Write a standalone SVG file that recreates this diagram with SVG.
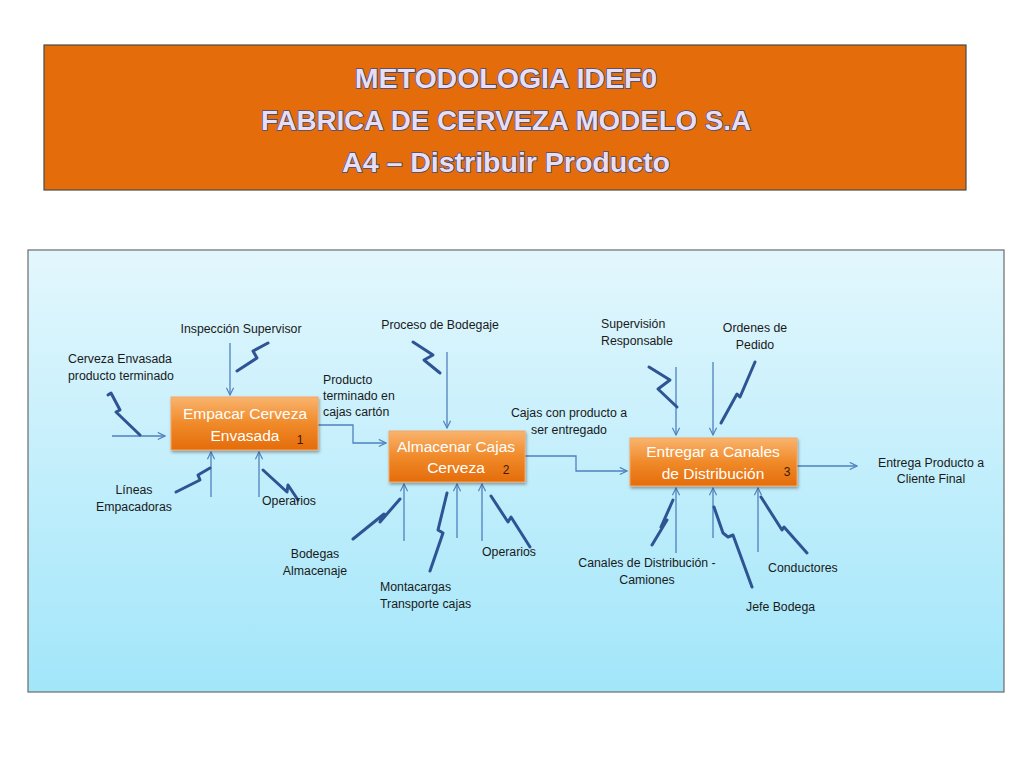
<svg xmlns="http://www.w3.org/2000/svg" width="1024" height="768" viewBox="0 0 1024 768">
<defs>
<linearGradient id="panelG" x1="0" y1="0" x2="0" y2="1">
<stop offset="0" stop-color="#E3F7FD"/>
<stop offset="1" stop-color="#A2E6FA"/>
</linearGradient>
<linearGradient id="boxG" x1="0" y1="0" x2="0" y2="1">
<stop offset="0" stop-color="#F9B46E"/>
<stop offset="0.5" stop-color="#F08A2A"/>
<stop offset="1" stop-color="#E46C0A"/>
</linearGradient>
<filter id="sh" x="-10%" y="-10%" width="130%" height="140%">
<feDropShadow dx="1" dy="2" stdDeviation="1.5" flood-color="#000" flood-opacity="0.35"/>
</filter>
<marker id="arr" viewBox="0 0 10 10" refX="9" refY="5" markerWidth="9" markerHeight="9" markerUnits="userSpaceOnUse" orient="auto">
<path d="M1,1 L9,5 L1,9" fill="none" stroke="#4F81BD" stroke-width="1.3"/>
</marker>
</defs>
<style>
.title{font-family:"Liberation Sans",Arial,sans-serif;font-weight:bold;font-size:28.5px;fill:#E9DDF2;stroke:#3E4E7E;stroke-width:1.6px;paint-order:stroke;text-anchor:middle}
.box{fill:url(#boxG);stroke:#F6A869;stroke-width:1;filter:url(#sh)}
.bt{font-family:"Liberation Sans",Arial,sans-serif;font-size:15.5px;fill:#FFFFFF;text-anchor:middle}
.num{font-family:"Liberation Sans",Arial,sans-serif;font-size:12px;fill:#3A1A00;text-anchor:middle}
.lb{font-family:"Liberation Sans",Arial,sans-serif;font-size:12.3px;fill:#1A1A1A}
.c{text-anchor:middle}
.con{fill:none;stroke:#4F81BD;stroke-width:1.3;marker-end:url(#arr)}
.zz{fill:none;stroke:#2E5493;stroke-width:3;stroke-linejoin:round;stroke-linecap:round}
</style>
<rect width="1024" height="768" fill="#FFFFFF"/>
<g id="title">
<rect x="44" y="45" width="922" height="145" fill="#E46C0A" stroke="#4A4A4A" stroke-width="1.2"/>
<text class="title" x="506" y="88">METODOLOGIA IDEF0</text>
<text class="title" x="506" y="130" textLength="490" lengthAdjust="spacingAndGlyphs">FABRICA DE CERVEZA MODELO S.A</text>
<text class="title" x="506" y="172">A4 – Distribuir Producto</text>
</g>
<g id="panel">
<rect x="28" y="250" width="976" height="442" fill="url(#panelG)" stroke="#6B6B6B" stroke-width="1.2"/>
</g>
<g id="connectors">
<path class="con" d="M112,436 H165"/>
<path class="con" d="M230,343 V395"/>
<path class="con" d="M211,497 V452"/>
<path class="con" d="M259,497 V452"/>
<path class="con" d="M318,425 H353 V443 H386"/>
<path class="con" d="M447,352 V428"/>
<path class="con" d="M404,541 V484"/>
<path class="con" d="M457,538 V484"/>
<path class="con" d="M482,541 V484"/>
<path class="con" d="M525,456 H576 V471 H627"/>
<path class="con" d="M676,367 V435"/>
<path class="con" d="M713,362 V435"/>
<path class="con" d="M676,553 V488"/>
<path class="con" d="M713,538 V488"/>
<path class="con" d="M758,552 V488"/>
<path class="con" d="M797,466 H857"/>
</g>
<g id="squiggles">
<polyline class="zz" points="237,371 257,358 253,351 268,343"/>
<polyline class="zz" points="108,395 111,393 120,410 116,412 140,435"/>
<polyline class="zz" points="176,492 200,480 198,475 210,468"/>
<polyline class="zz" points="263,470 287,492 288,485 298,500"/>
<polyline class="zz" points="413,342 433,355 424,360 440,373"/>
<polyline class="zz" points="353,539 384,514 380,522 400,499"/>
<polyline class="zz" points="447,493 438,530 443,533 430,571"/>
<polyline class="zz" points="491,496 508,522 511,517 530,547"/>
<polyline class="zz" points="649,367 670,380 658,389 677,407"/>
<polyline class="zz" points="755,362 740,397 737,394 721,423"/>
<polyline class="zz" points="673,500 661,527 667,520 652,545"/>
<polyline class="zz" points="714,507 723,533 728,537 733,535 752,587"/>
<polyline class="zz" points="761,497 782,530 784,527 807,553"/>
</g>
<g id="node1">
<rect class="box" x="171" y="397" width="147" height="53"/>
<text class="bt" x="245" y="419">Empacar Cerveza</text>
<text class="bt" x="245" y="441">Envasada</text>
<text class="num" x="300" y="444">1</text>
</g>
<g id="node2">
<rect class="box" x="389" y="431" width="136" height="51"/>
<text class="bt" x="456" y="452">Almacenar Cajas</text>
<text class="bt" x="456" y="473">Cerveza</text>
<text class="num" x="506" y="474">2</text>
</g>
<g id="node3">
<rect class="box" x="630" y="438" width="167" height="48"/>
<text class="bt" x="713" y="457">Entregar a Canales</text>
<text class="bt" x="713" y="479">de Distribución</text>
<text class="num" x="787" y="476">3</text>
</g>
<g id="labels">
<text class="lb c" x="241" y="333">Inspección Supervisor</text>
<text class="lb" x="68" y="363">Cerveza Envasada</text>
<text class="lb" x="68" y="380">producto terminado</text>
<text class="lb c" x="134" y="494">Líneas</text>
<text class="lb c" x="134" y="511">Empacadoras</text>
<text class="lb" x="262" y="505">Operarios</text>
<text class="lb" x="323" y="384">Producto</text>
<text class="lb" x="323" y="400">terminado en</text>
<text class="lb" x="323" y="416">cajas cartón</text>
<text class="lb c" x="440" y="329">Proceso de Bodegaje</text>
<text class="lb c" x="569" y="417">Cajas con producto a</text>
<text class="lb c" x="569" y="434">ser entregado</text>
<text class="lb c" x="315" y="558">Bodegas</text>
<text class="lb c" x="315" y="575">Almacenaje</text>
<text class="lb" x="380" y="591">Montacargas</text>
<text class="lb" x="380" y="608">Transporte cajas</text>
<text class="lb" x="482" y="556">Operarios</text>
<text class="lb" x="601" y="328">Supervisión</text>
<text class="lb" x="601" y="345">Responsable</text>
<text class="lb c" x="755" y="332">Ordenes de</text>
<text class="lb c" x="755" y="349">Pedido</text>
<text class="lb c" x="647" y="567">Canales de Distribución -</text>
<text class="lb c" x="647" y="584">Camiones</text>
<text class="lb" x="768" y="572">Conductores</text>
<text class="lb" x="746" y="611">Jefe Bodega</text>
<text class="lb c" x="931" y="467">Entrega Producto a</text>
<text class="lb c" x="931" y="483">Cliente Final</text>
</g>
</svg>
